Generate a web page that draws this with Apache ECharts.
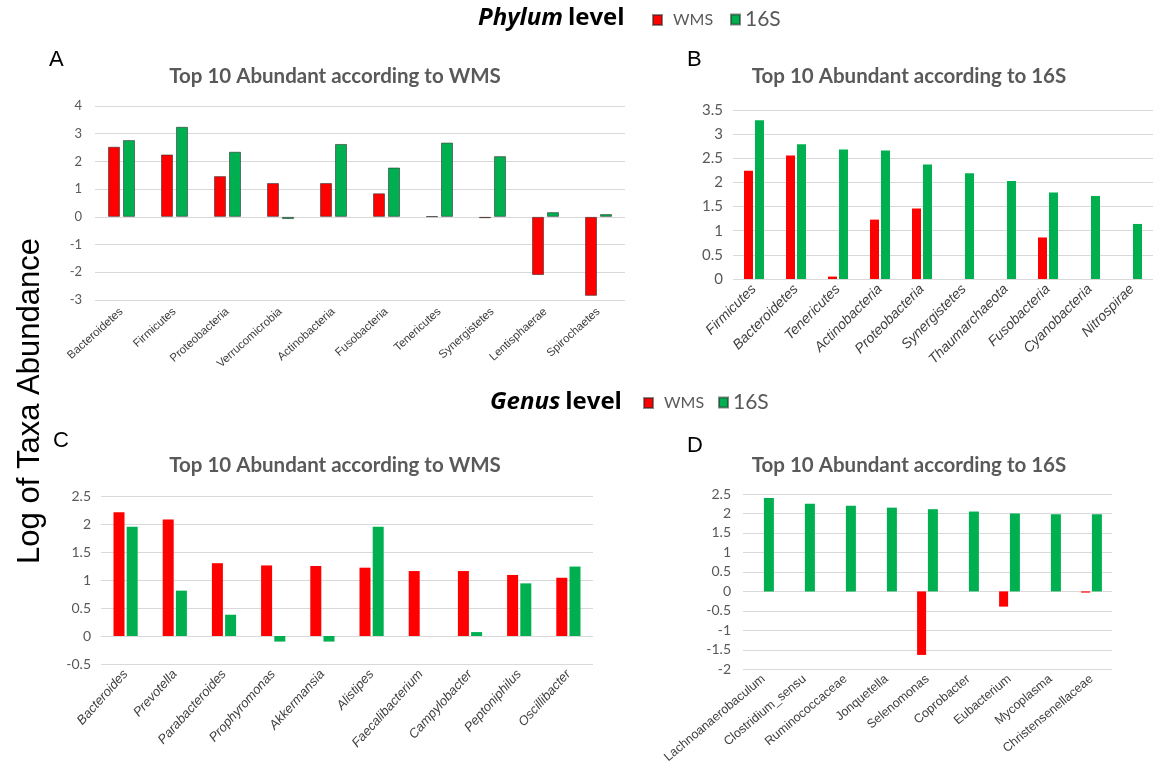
<!DOCTYPE html>
<html>
<head>
<meta charset="utf-8">
<title>Top 10 Abundant taxa</title>
<script src="https://cdn.jsdelivr.net/npm/echarts@6/dist/echarts.min.js"></script>
<style>
  html, body { margin: 0; background: #fff; }
  #chart { width: 1153px; height: 766px; }
</style>
</head>
<body>
<div id="chart"></div>
<script>
// A: phylum level, top 10 by WMS
const phylumByWms = ["Bacteroidetes", "Firmicutes", "Proteobacteria", "Verrucomicrobia", "Actinobacteria",
  "Fusobacteria", "Tenericutes", "Synergistetes", "Lentisphaerae", "Spirochaetes"];
const phylumByWms_wms = [2.53, 2.25, 1.47, 1.22, 1.22, 0.85, 0.02, -0.05, -2.1, -2.85];
const phylumByWms_16s = [2.77, 3.25, 2.35, -0.08, 2.63, 1.78, 2.68, 2.19, 0.17, 0.1];

// B: phylum level, top 10 by 16S
const phylumBy16s = ["Firmicutes", "Bacteroidetes", "Tenericutes", "Actinobacteria", "Proteobacteria",
  "Synergistetes", "Thaumarchaeota", "Fusobacteria", "Cyanobacteria", "Nitrospirae"];
const phylumBy16s_wms = [2.24, 2.56, 0.05, 1.23, 1.46, 0, 0, 0.86, 0, 0];
const phylumBy16s_16s = [3.29, 2.79, 2.68, 2.66, 2.37, 2.19, 2.03, 1.79, 1.72, 1.14];

// C: genus level, top 10 by WMS
const genusByWms = ["Bacteroides", "Prevotella", "Parabacteroides", "Prophyromonas", "Akkermansia",
  "Alistipes", "Faecalibacterium", "Campylobacter", "Peptoniphilus", "Oscillibacter"];
const genusByWms_wms = [2.21, 2.08, 1.3, 1.26, 1.25, 1.22, 1.16, 1.16, 1.09, 1.04];
const genusByWms_16s = [1.95, 0.81, 0.38, -0.1, -0.1, 1.95, 0, 0.07, 0.94, 1.24];

// D: genus level, top by 16S
const genusBy16s = ["Lachnoanaerobaculum", "Clostridium_sensu", "Ruminococcaceae", "Jonquetella", "Selenomonas",
  "Coprobacter", "Eubacterium", "Mycoplasma", "Christensenellaceae"];
const genusBy16s_wms = [0, 0, 0, 0, -1.63, 0, -0.39, 0, -0.03];
const genusBy16s_16s = [2.4, 2.25, 2.2, 2.15, 2.11, 2.05, 2.0, 1.98, 1.98];

const RED = "#ff0000";
const GREEN = "#00b050";
const GRID_LINE = "#d9d9d9";
const GREY_TEXT = "#595959";

const chart = echarts.init(document.getElementById("chart"));

function xAx(idx, cats, fontSize, italic, rotate, margin) {
  return {
    type: "category", gridIndex: idx, data: cats, position: "bottom",
    axisLine: { show: false }, axisTick: { show: false },
    axisLabel: {
      interval: 0, rotate: rotate, margin: margin, color: "#404040",
      fontSize: fontSize, fontFamily: "Liberation Sans",
      fontStyle: italic ? "italic" : "normal"
    }
  };
}

function yAx(idx, min, max, step, fontSize, margin) {
  return {
    type: "value", gridIndex: idx, min: min, max: max, interval: step,
    axisLine: { show: false }, axisTick: { show: false },
    splitLine: { lineStyle: { color: GRID_LINE, width: 1 } },
    axisLabel: { color: GREY_TEXT, fontSize: fontSize, fontFamily: "Lato", margin: margin }
  };
}

function bars(name, idx, values, color, width, gap, outlined) {
  return {
    name: name, type: "bar", xAxisIndex: idx, yAxisIndex: idx, data: values,
    barWidth: width, barGap: gap,
    itemStyle: outlined
      ? { color: color, borderColor: "rgba(40,40,40,0.55)", borderWidth: 1 }
      : { color: color },
    emphasis: { disabled: true }
  };
}

const headerRich = {
  i: { fontFamily: "Open Sans", fontSize: 24, fontWeight: "bold", fontStyle: "italic", color: "#000" },
  b: { fontFamily: "Open Sans", fontSize: 24, fontWeight: "bold", color: "#000" }
};
const panelTitle = { fontFamily: "Lato", fontSize: 20.5, fontWeight: "bold", color: GREY_TEXT };
const letter = { fontFamily: "Liberation Sans", fontSize: 22, fontWeight: "normal", color: "#000" };

// one legend per key so each square can sit where the reference puts it
function legendItem(name, left, top) {
  return {
    left: left, top: top, icon: "rect", itemWidth: 9, itemHeight: 10,
    selectedMode: false, data: [name],
    formatter: (n) => (n === "WMS" ? "{w|WMS}" : "{s|16S}"),
    textStyle: {
      color: GREY_TEXT,
      rich: {
        w: { fontFamily: "Lato", fontSize: 16, color: GREY_TEXT, padding: [0, 0, 0, 6] },
        s: { fontFamily: "Lato", fontSize: 21, color: GREY_TEXT }
      }
    }
  };
}

const option = {
  animation: false,
  backgroundColor: "#fff",
  title: [
    { text: "{i|Phylum} {b|level}", left: 473, top: 1, textStyle: { rich: headerRich } },
    { text: "{i|Genus} {b|level}", left: 485, top: 385, textStyle: { rich: headerRich } },
    { text: "A", left: 44, top: 44, textStyle: letter },
    { text: "B", left: 682, top: 44, textStyle: letter },
    { text: "C", left: 48, top: 425, textStyle: letter },
    { text: "D", left: 682, top: 430, textStyle: letter },
    { text: "Top 10 Abundant according to WMS", left: 330, top: 61, textAlign: "center", textStyle: panelTitle },
    { text: "Top 10 Abundant according to 16S", left: 904, top: 61, textAlign: "center", textStyle: panelTitle },
    { text: "Top 10 Abundant according to WMS", left: 330, top: 450, textAlign: "center", textStyle: panelTitle },
    { text: "Top 10 Abundant according to 16S", left: 904, top: 450, textAlign: "center", textStyle: panelTitle }
  ],
  legend: [
    legendItem("WMS", 647, 7), legendItem("16S", 725, 4),
    legendItem("WMS", 638, 390), legendItem("16S", 713, 387)
  ],
  graphic: [{
    type: "text", x: 30, y: 401, rotation: Math.PI / 2,
    style: {
      text: "Log of Taxa Abundance", fill: "#000", fontSize: 31,
      fontFamily: "Liberation Sans", align: "center", verticalAlign: "middle"
    }
  }],
  grid: [
    { left: 95, top: 106, width: 530, height: 194 },
    { left: 733, top: 110, width: 420, height: 169 },
    { left: 101, top: 496, width: 492, height: 168 },
    { left: 743, top: 494, width: 369, height: 188 }
  ],
  xAxis: [
    xAx(0, phylumByWms, 11.5, false, 42, 10),
    xAx(1, phylumBy16s, 14, true, 45, 8),
    xAx(2, genusByWms, 13, true, 48, 8),
    xAx(3, genusBy16s, 12.5, false, 40, 8)
  ],
  yAxis: [
    yAx(0, -3, 4, 1, 13, 13),
    yAx(1, 0, 3.5, 0.5, 15, 10),
    yAx(2, -0.5, 2.5, 0.5, 14, 10),
    yAx(3, -2, 2.5, 0.5, 14, 12)
  ],
  series: [
    bars("WMS", 0, phylumByWms_wms, RED, 12, "25%", true),
    bars("16S", 0, phylumByWms_16s, GREEN, 12, "25%", true),
    bars("WMS", 1, phylumBy16s_wms, RED, 9, "22%", false),
    bars("16S", 1, phylumBy16s_16s, GREEN, 9, "22%", false),
    bars("WMS", 2, genusByWms_wms, RED, 11, "20%", false),
    bars("16S", 2, genusByWms_16s, GREEN, 11, "20%", false),
    bars("WMS", 3, genusBy16s_wms, RED, 9, "20%", false),
    bars("16S", 3, genusBy16s_16s, GREEN, 10, "20%", false)
  ]
};

chart.setOption(option);
</script>
</body>
</html>
